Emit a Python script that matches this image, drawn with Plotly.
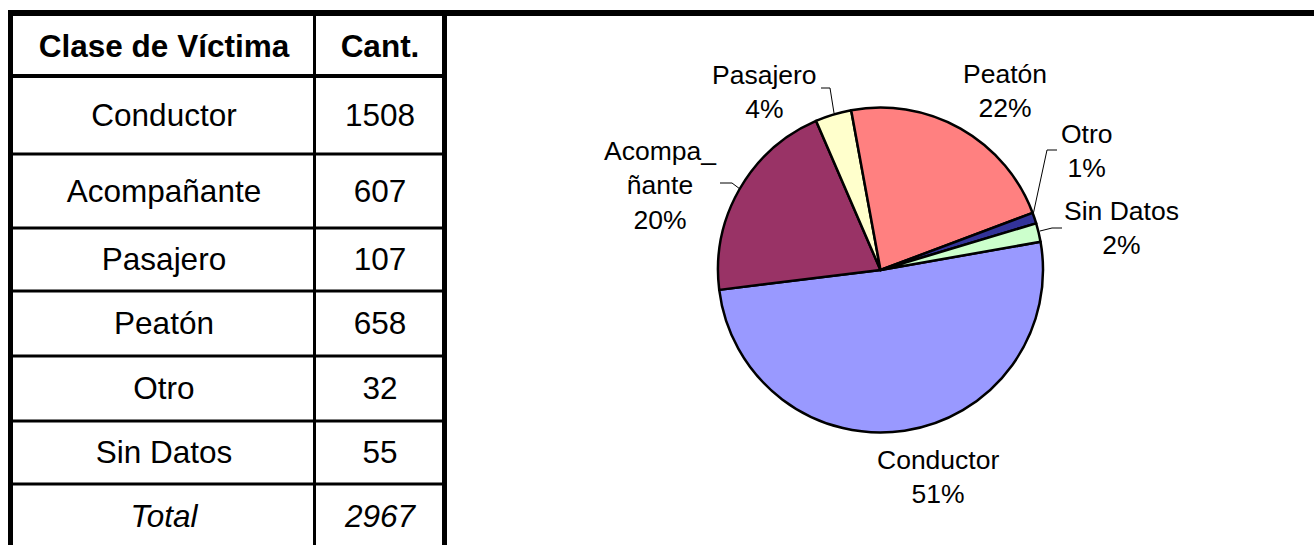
import plotly.graph_objects as go

# ---------------- data ----------------
headers = ["Clase de Víctima", "Cant."]
categories = ["Conductor", "Acompañante", "Pasajero", "Peatón", "Otro", "Sin Datos"]
counts = [1508, 607, 107, 658, 32, 55]
total_label = "Total"
total_value = 2967
pie_names = ["Conductor", "Acompa_<br>ñante", "Pasajero", "Peatón", "Otro", "Sin Datos"]
pie_colors = ["#9999FF", "#993366", "#FFFFCC", "#FF8080", "#333399", "#CCFFCC"]

# ---------------- layout geometry (pixels) ----------------
W, H = 1314, 545
row_edges = [16, 76, 154, 228, 291, 356, 421, 484, 548]   # table row boundaries
col_left, col_mid, col_right = 10.5, 314.5, 444.5
col_centers = [164, 380]
text_dy = 3
FONT = "Liberation Sans, Arial, sans-serif"

fig = go.Figure()

# ---------------- table text ----------------
row_centers = [(row_edges[i] + row_edges[i + 1]) / 2 + text_dy for i in range(len(row_edges) - 1)]
col1 = ["<b>%s</b>" % headers[0]] + categories + ["<i>%s</i>" % total_label]
col2 = ["<b>%s</b>" % headers[1]] + [str(v) for v in counts] + ["<i>%d</i>" % total_value]
fig.add_trace(go.Scatter(
    x=[col_centers[0]] * len(col1) + [col_centers[1]] * len(col2),
    y=row_centers + row_centers,
    text=col1 + col2,
    mode="text",
    textposition="middle center",
    textfont=dict(family=FONT, size=31.5, color="black"),
    hoverinfo="skip", showlegend=False, xaxis="x", yaxis="y",
))

# ---------------- pie ----------------
cx, cy, r = 880.5, 270, 162.5
fig.add_trace(go.Pie(
    labels=categories, values=counts,
    sort=False, direction="clockwise", rotation=80,
    marker=dict(colors=pie_colors, line=dict(color="black", width=2.5)),
    textinfo="none", hoverinfo="label+percent", showlegend=False,
    domain=dict(x=[(cx - r) / W, (cx + r) / W], y=[1 - (cy + r) / H, 1 - (cy - r) / H]),
))

# ---------------- pie labels ----------------
tot = sum(counts)
pcts = [round(100 * v / tot) for v in counts]
label_pos = [(938, 477), (660, 185), (764, 92), (1005, 91), (1087, 151), (1121, 228)]
annotations = []
for name, p, (lx, ly) in zip(pie_names, pcts, label_pos):
    annotations.append(dict(
        x=lx, y=ly, xref="x", yref="y", text="%s<br>%d%%" % (name, p),
        showarrow=False, xanchor="center", yanchor="middle", align="center",
        font=dict(family=FONT, size=26.5, color="black"),
    ))

# ---------------- shapes: table borders and leader lines ----------------
shapes = []
def line(x0, y0, x1, y1, w):
    shapes.append(dict(type="line", xref="x", yref="y", x0=x0, y0=y0, x1=x1, y1=y1,
                       line=dict(color="black", width=w), layer="above"))

line(8, 13, W, 13, 6)                      # top rule across the page
line(col_left, 10, col_left, H, 5)         # left border
line(col_right, 10, col_right, H, 5)       # right border
line(col_mid, 16, col_mid, H, 3)           # column divider
for i, yv in enumerate(row_edges[1:-1]):
    line(col_left, yv, col_right, yv, 4 if i == 0 else 3)

leaders = [
    [(821, 88), (830, 88), (834, 113)],      # Pasajero
    [(720, 183), (732, 183), (740, 189)],    # Acompañante
    [(1057, 150), (1047, 150), (1033, 215)], # Otro
    [(1062, 228), (1052, 228), (1040, 231)], # Sin Datos
]
for pts in leaders:
    path = "M %s,%s " % pts[0] + " ".join("L %s,%s" % p for p in pts[1:])
    shapes.append(dict(type="path", xref="x", yref="y", path=path,
                       line=dict(color="black", width=1), layer="above"))

fig.update_layout(
    width=W, height=H,
    margin=dict(l=0, r=0, t=0, b=0),
    paper_bgcolor="white", plot_bgcolor="rgba(0,0,0,0)",
    xaxis=dict(range=[0, W], domain=[0, 1], visible=False, fixedrange=True),
    yaxis=dict(range=[H, 0], domain=[0, 1], visible=False, fixedrange=True),
    shapes=shapes, annotations=annotations,
    font=dict(family=FONT),
)

fig.write_html(
    "out.html",
    config={"displayModeBar": False},
    post_script="document.body.style.margin='0';document.body.style.overflow='hidden';",
)
